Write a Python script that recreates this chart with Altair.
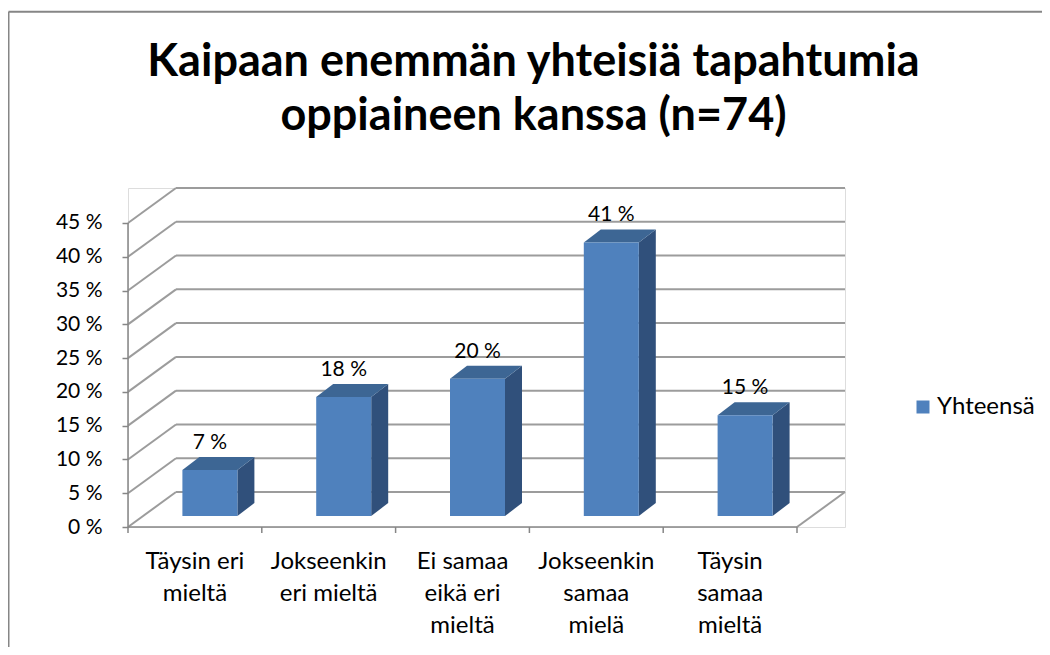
import altair as alt
import pandas as pd

# ---------------- data ----------------
title_text = "Kaipaan enemmän yhteisiä tapahtumia\noppiaineen kanssa (n=74)"
categories = ["Täysin eri\nmieltä", "Jokseenkin\neri mieltä", "Ei samaa\neikä eri\nmieltä",
              "Jokseenkin\nsamaa\nmielä", "Täysin\nsamaa\nmieltä"]
values = [6.8, 17.6, 20.3, 40.5, 14.9]
value_labels = ["7 %", "18 %", "20 %", "41 %", "15 %"]
y_ticks = [0, 5, 10, 15, 20, 25, 30, 35, 40, 45]
series_name = "Yhteensä"

# ---------------- layout / style ----------------
PLOT_W, PLOT_H = 717, 339
SLOT_PX = 133.8          # pixel width of one category slot (front plane)
PCT_PX = 6.756           # pixels per percent
WALL_DX_PX, WALL_DY_PX = 48, 35
BAR_SHIFT_X_PX, BAR_SHIFT_Y_PX = 15, 11
BAR_W_PX = 55
BAR_DEPTH_X_PX, BAR_DEPTH_Y_PX = 17, 13

FONT = "Lato"
BLUE = "#4f81bd"
TOP_C = "#3d6694"
SIDE_C = "#30507b"
GRID = "#9c9c9c"
AXIS_C = "#868686"

n = len(categories)
XMAX = PLOT_W / SLOT_PX
YMAX = PLOT_H / PCT_PX
wdx, wdy = WALL_DX_PX / SLOT_PX, WALL_DY_PX / PCT_PX
bsx, bsy = BAR_SHIFT_X_PX / SLOT_PX, BAR_SHIFT_Y_PX / PCT_PX
bw = BAR_W_PX / SLOT_PX
ddx, ddy = BAR_DEPTH_X_PX / SLOT_PX, BAR_DEPTH_Y_PX / PCT_PX

XS = alt.Scale(domain=[0, XMAX], nice=False, zero=False)
YS = alt.Scale(domain=[0, YMAX], nice=False, zero=False)
Y_AX = alt.Axis(values=y_ticks, labelExpr="datum.value + ' %'", title=None, grid=False,
                domain=False, ticks=True, tickSize=6, tickColor=AXIS_C, tickWidth=1.5,
                labelFont=FONT, labelFontSize=21, labelColor="black", labelPadding=20)


def X(f):
    return alt.X(f, type="quantitative", scale=XS, axis=None)


def Y(f):
    return alt.Y(f, type="quantitative", scale=YS, axis=Y_AX)


# ---------------- tables ----------------
grid_df = pd.DataFrame({
    "v": y_ticks,
    "vb": [v + wdy for v in y_ticks],
    "x0": [0.0] * len(y_ticks),
    "xw": [wdx] * len(y_ticks),
    "xe": [XMAX] * len(y_ticks),
})

bar_rows, side_rows, top_rows = [], [], []
for i, (c, v, lab) in enumerate(zip(categories, values, value_labels)):
    left = i + (1 - bw) / 2 + bsx
    right = left + bw
    base = bsy
    top = v + bsy
    bar_rows.append(dict(cat=c, idx=i, left=left, right=right, base=base, top=top,
                         cx=(left + right) / 2, ly=top + ddy, label=lab,
                         fx=i + 0.5, series=series_name))
    side_rows += [dict(cat=c, x=right, lo=base, hi=top),
                  dict(cat=c, x=right + ddx, lo=base + ddy, hi=top + ddy)]
    top_rows += [dict(cat=c, y=top, xl=left, xr=right),
                 dict(cat=c, y=top + ddy, xl=left + ddx, xr=right + ddx)]
bars_df = pd.DataFrame(bar_rows)
side_df = pd.DataFrame(side_rows)
top_df = pd.DataFrame(top_rows)
xt_df = pd.DataFrame({"x": list(range(n + 1))})
one = pd.DataFrame({"a": [0]})
title_df = pd.DataFrame({"t": [title_text]})

# ---------------- layers ----------------
back_grid = alt.Chart(grid_df).mark_rule(color=GRID, strokeWidth=2).encode(
    x=X("xw"), x2="xe", y=Y("vb"))
side_grid = alt.Chart(grid_df).mark_rule(color=GRID, strokeWidth=2).encode(
    x=X("x0"), x2="xw", y=Y("v"), y2="vb")
floor_side = alt.Chart(pd.DataFrame({"x": [float(n)], "x2": [n + wdx], "y": [0.0], "y2": [wdy]})
                       ).mark_rule(color=GRID, strokeWidth=2).encode(
    x=X("x"), x2="x2", y=Y("y"), y2="y2")
y_line = alt.Chart(pd.DataFrame({"x": [0.0], "y": [0.0], "y2": [max(y_ticks)]})
                   ).mark_rule(color=AXIS_C, strokeWidth=1.5).encode(
    x=X("x"), y=Y("y"), y2="y2")
x_line = alt.Chart(pd.DataFrame({"x": [0.0], "x2": [float(n)], "y": [0.0]})
                   ).mark_rule(color=AXIS_C, strokeWidth=1.5).encode(
    x=X("x"), x2="x2", y=Y("y"))
x_ticks = alt.Chart(xt_df).mark_rule(color=AXIS_C, strokeWidth=1.5).encode(
    x=X("x"), y=alt.value(PLOT_H), y2=alt.value(PLOT_H + 6))

front = alt.Chart(bars_df).mark_rect().encode(
    x=X("left"), x2="right", y=Y("base"), y2="top",
    color=alt.Color("series:N", scale=alt.Scale(domain=[series_name], range=[BLUE]),
                    legend=alt.Legend(title=None, orient="none", legendX=783, legendY=207,
                                      symbolType="square", symbolSize=169, symbolStrokeWidth=0,
                                      labelFont=FONT, labelFontSize=24, labelColor="black",
                                      labelOffset=2, padding=0)))
side = alt.Chart(side_df).mark_area(orient="vertical", color=SIDE_C).encode(
    x=X("x"), y=Y("lo"), y2="hi", detail="cat:N")
topf = alt.Chart(top_df).mark_area(orient="horizontal", color=TOP_C).encode(
    y=Y("y"), x=X("xl"), x2="xr", detail="cat:N")
vlabels = alt.Chart(bars_df).mark_text(font=FONT, fontSize=21, color="black",
                                       baseline="alphabetic", dy=-8).encode(
    x=X("cx"), y=Y("ly"), text="label:N")
clabels = alt.Chart(bars_df).mark_text(font=FONT, fontSize=24, color="black",
                                       baseline="alphabetic", lineBreak="\n",
                                       lineHeight=32).encode(
    x=X("fx"), y=alt.value(381), text="cat:N")
title = alt.Chart(title_df).mark_text(font=FONT, fontSize=45, fontWeight="bold", color="black",
                                      baseline="alphabetic", align="center", lineBreak="\n",
                                      lineHeight=54).encode(
    x=alt.value(405.5), y=alt.value(-112), text="t:N")

border_v = alt.Chart(one).mark_rule(color=AXIS_C, strokeWidth=2).encode(
    x=alt.value(-119.5), y=alt.value(-176.3), y2=alt.value(470))
border_h = alt.Chart(one).mark_rule(color=AXIS_C, strokeWidth=2).encode(
    x=alt.value(-119.5), x2=alt.value(930), y=alt.value(-176.3))

chart = alt.layer(
    back_grid, side_grid, floor_side, y_line, x_line, x_ticks,
    side, topf, front, vlabels, clabels, title, border_v, border_h
).properties(
    width=PLOT_W, height=PLOT_H,
    autosize=alt.AutoSizeParams(type="none"),
    padding={"left": 120, "top": 180, "right": 197, "bottom": 120},
).configure_view(stroke=None).configure(background="white")

chart.save("out.html", embed_options={"renderer": "svg", "actions": False})
